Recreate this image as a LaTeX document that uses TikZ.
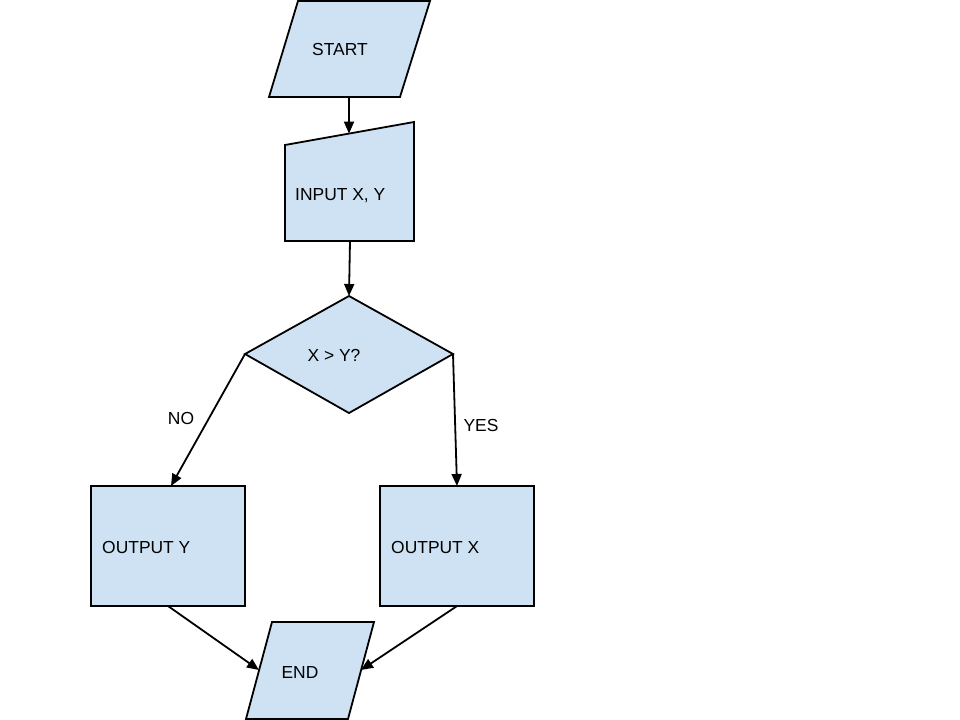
\documentclass[tikz,border=0pt]{standalone}
\usepackage{fontspec}
\setmainfont{Liberation Sans}
\usetikzlibrary{arrows.meta}
\definecolor{boxblue}{RGB}{207,226,243}

\begin{document}
\begin{tikzpicture}[x=1bp,y=-1bp,>={Triangle[length=12bp,width=10bp]},
    box/.style={fill=boxblue,draw=black,line width=1.8bp},
    flow/.style={->,line width=1.8bp},
    lbl/.style={font=\fontsize{17.5}{20}\selectfont,inner sep=0pt}]
    \useasboundingbox (0,0) rectangle (960,720);
    % shapes
    \filldraw[box] (298,1) -- (430,1) -- (400,97) -- (269,97) -- cycle;
    \filldraw[box] (285,145) -- (414,122) -- (414,241) -- (285,241) -- cycle;
    \filldraw[box] (349,296) -- (453,354) -- (349,413) -- (245,354) -- cycle;
    \filldraw[box] (91,486) rectangle (245,606);
    \filldraw[box] (380,486) rectangle (534,606);
    \filldraw[box] (272,622) -- (374,622) -- (348,719) -- (246,719) -- cycle;
    % anchor points
    \coordinate (start-s) at (349,97);
    \coordinate (input-n) at (349,133.6);
    \coordinate (input-s) at (350,241);
    \coordinate (test-n) at (349,296);
    \coordinate (test-w) at (245,354);
    \coordinate (test-e) at (453,354);
    \coordinate (outy-n) at (171,486);
    \coordinate (outy-s) at (168,606);
    \coordinate (outx-n) at (457,486);
    \coordinate (outx-s) at (457,606);
    \coordinate (end-w) at (259,670);
    \coordinate (end-e) at (361,670);
    % texts
    \node[lbl] (start) at (340,49) {START};
    \node[lbl,anchor=west] (input) at (295,196) {INPUT X, Y};
    \node[lbl] (test) at (334,355) {X > Y?};
    \node[lbl] (no) at (181,418) {NO};
    \node[lbl] (yes) at (481,425) {YES};
    \node[lbl,anchor=west] (outy) at (102,547) {OUTPUT Y};
    \node[lbl,anchor=west] (outx) at (391,547) {OUTPUT X};
    \node[lbl] (end) at (300,672) {END};
    % connectors
    \draw[flow] (start-s) -- (input-n);
    \draw[flow] (input-s) -- (test-n);
    \draw[flow] (test-w) -- (outy-n);
    \draw[flow] (test-e) -- (outx-n);
    \draw[flow] (outy-s) -- (end-w);
    \draw[flow] (outx-s) -- (end-e);
\end{tikzpicture}
\end{document}
